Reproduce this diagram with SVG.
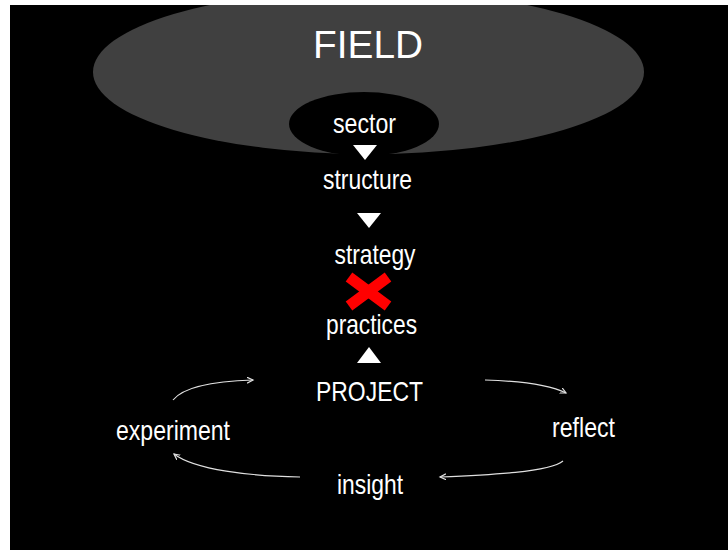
<svg xmlns="http://www.w3.org/2000/svg" width="728" height="550" viewBox="0 0 728 550">
<defs>
<style>
.t{fill:#ffffff;font-family:"Liberation Sans Narrow","Liberation Sans",Arial,sans-serif;font-size:28px;text-anchor:middle}
.tri{fill:#ffffff}
.c{fill:none;stroke:#e0e0e0;stroke-width:1.2}
</style>
<clipPath id="bg"><rect x="10" y="5" width="718" height="545"/></clipPath>
<marker id="ah" markerWidth="8" markerHeight="8" refX="6" refY="3" orient="auto" markerUnits="userSpaceOnUse">
<path d="M0,0 L6,3 L0,6" fill="none" stroke="#e0e0e0" stroke-width="1.2"/>
</marker>
</defs>
<rect x="0" y="0" width="728" height="550" fill="#ffffff"/>
<rect x="10" y="5" width="718" height="545" fill="#000000"/>
<g id="field">
<ellipse cx="368.5" cy="72" rx="275.5" ry="82" fill="#404040" clip-path="url(#bg)"/>
<text x="368" y="58" class="t" style="font-size:39px;font-family:'Liberation Sans',Arial,sans-serif" textLength="110" lengthAdjust="spacingAndGlyphs">FIELD</text>
</g>
<g id="sector">
<ellipse cx="364" cy="124" rx="75" ry="32" fill="#000000"/>
<text x="364.5" y="133" class="t" textLength="63" lengthAdjust="spacingAndGlyphs">sector</text>
</g>
<g id="structure">
<text x="367.5" y="189" class="t" textLength="89" lengthAdjust="spacingAndGlyphs">structure</text>
</g>
<g id="strategy">
<text x="375" y="264" class="t" textLength="81" lengthAdjust="spacingAndGlyphs">strategy</text>
</g>
<g id="practices">
<text x="371.5" y="334" class="t" textLength="91" lengthAdjust="spacingAndGlyphs">practices</text>
</g>
<g id="project">
<text x="369.5" y="401" class="t" textLength="107" lengthAdjust="spacingAndGlyphs">PROJECT</text>
</g>
<g id="experiment">
<text x="173" y="440" class="t" textLength="114" lengthAdjust="spacingAndGlyphs">experiment</text>
</g>
<g id="reflect">
<text x="583.5" y="437" class="t" textLength="63" lengthAdjust="spacingAndGlyphs">reflect</text>
</g>
<g id="insight">
<text x="370" y="494" class="t" textLength="66" lengthAdjust="spacingAndGlyphs">insight</text>
</g>
<g id="connectors">
<polygon class="tri" points="353,145 377,145 365,160"/>
<polygon class="tri" points="357,213 381,213 369,228"/>
<polygon class="tri" points="357,363 381,363 369,347"/>
<g stroke="#ff0000" stroke-width="11">
<line x1="349" y1="277" x2="388" y2="306"/>
<line x1="388" y1="277" x2="349" y2="306"/>
</g>
<path class="c" d="M173,400 C185,385 220,381 253,380" marker-end="url(#ah)"/>
<path class="c" d="M485,380 C520,381 550,385 566,393" marker-end="url(#ah)"/>
<path class="c" d="M563,461 C550,472 490,475 440,477" marker-end="url(#ah)"/>
<path class="c" d="M300,477 C250,476 195,470 174,454" marker-end="url(#ah)"/>
</g>
</svg>
